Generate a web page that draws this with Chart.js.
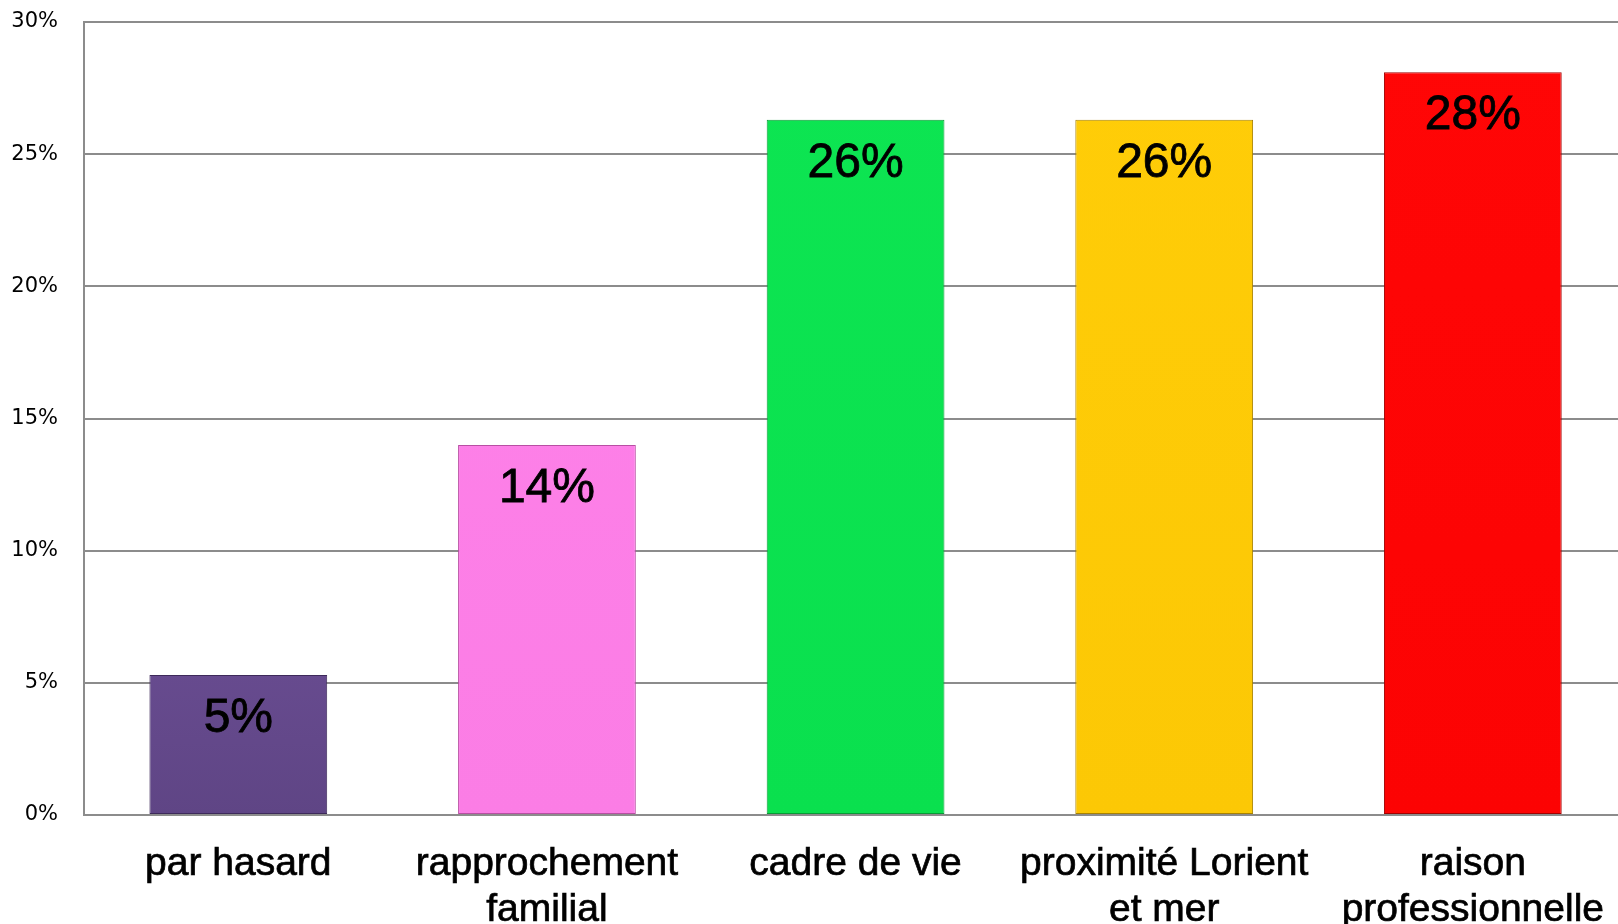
<!DOCTYPE html>
<html lang="fr">
<head>
<meta charset="UTF-8" />
<style>
  html, body { margin: 0; padding: 0; background: #fff; overflow: hidden; }
  #wrap { width: 1630px; height: 924px; position: relative; }
</style>
<title>Raisons</title>
</head>
<body>
<div id="wrap"><canvas id="c"></canvas></div>
<script src="https://cdn.jsdelivr.net/npm/chart.js"></script>
<script>
// categories and values (%)
const categories = [
  ['par hasard'],
  ['rapprochement', 'familial'],
  ['cadre de vie'],
  ['proximité Lorient', 'et mer'],
  ['raison', 'professionnelle']
];
const values = [5.3, 14.0, 26.3, 26.3, 28.1];
const topColors = ['#8a65ba', '#ff82ea', '#0de552', '#ffcd08', '#ff0606'];
const bottomColors = ['#5f4585', '#fb7de5', '#0ae04e', '#fcc805', '#fc0303'];
const edgeColors = ['#3d2a5a', '#b84fa3', '#089a35', '#a88200', '#a00000'];

// vertical gradient per bar
function barFill(c) {
  const chart = c.chart;
  const area = chart.chartArea;
  if (!area) return topColors[c.dataIndex];
  const el = chart.getDatasetMeta(0).data[c.dataIndex];
  const top = el && isFinite(el.y) ? el.y : area.top;
  const g = chart.ctx.createLinearGradient(0, top, 0, area.bottom);
  g.addColorStop(0, topColors[c.dataIndex]);
  g.addColorStop(1, bottomColors[c.dataIndex]);
  return g;
}

// value label inside the top of each bar
const valueLabels = {
  id: 'valueLabels',
  afterDatasetsDraw(chart) {
    const ctx = chart.ctx;
    const meta = chart.getDatasetMeta(0);
    ctx.save();
    ctx.font = '48px "Liberation Sans", Arial, sans-serif';
    ctx.fillStyle = '#000';
    ctx.strokeStyle = '#000';
    ctx.lineWidth = 0.8;
    ctx.textAlign = 'center';
    ctx.textBaseline = 'middle';
    meta.data.forEach((bar, i) => {
      const t = Math.round(values[i]) + '%';
      ctx.fillText(t, bar.x, bar.y + 44);
      ctx.strokeText(t, bar.x, bar.y + 44);
    });
    ctx.restore();
  }
};

new Chart(document.getElementById('c'), {
  type: 'bar',
  data: {
    labels: categories,
    datasets: [{
      data: values,
      backgroundColor: barFill,
      borderColor: edgeColors,
      borderWidth: 1,
      borderSkipped: false,
      barPercentage: 0.576,
      categoryPercentage: 1
    }]
  },
  options: {
    responsive: true,
    maintainAspectRatio: false,
    animation: false,
    layout: { padding: { top: 22, left: 0, right: 0, bottom: 0 } },
    plugins: { legend: { display: false }, tooltip: { enabled: false } },
    scales: {
      x: {
        grid: { display: false, drawTicks: false },
        border: { color: '#8c8c8c', width: 2 },
        afterFit: s => { s.height = 109; },
        ticks: {
          color: '#000',
          padding: 26,
          textStrokeColor: '#000',
          textStrokeWidth: 0.7,
          font: { family: '"Liberation Sans", Arial, sans-serif', size: 39, lineHeight: 1.18 }
        }
      },
      y: {
        min: 0,
        max: 30,
        grid: { color: '#8c8c8c', lineWidth: 2, drawTicks: false },
        border: { color: '#8c8c8c', width: 2 },
        afterFit: s => { s.width = 84; s.paddingTop = 0; s.paddingBottom = 0; },
        ticks: {
          stepSize: 5,
          color: '#000',
          padding: 26,
          font: { family: '"DejaVu Sans", sans-serif', size: 21 },
          callback: v => v + '%'
        }
      }
    }
  },
  plugins: [valueLabels]
});
</script>
</body>
</html>
